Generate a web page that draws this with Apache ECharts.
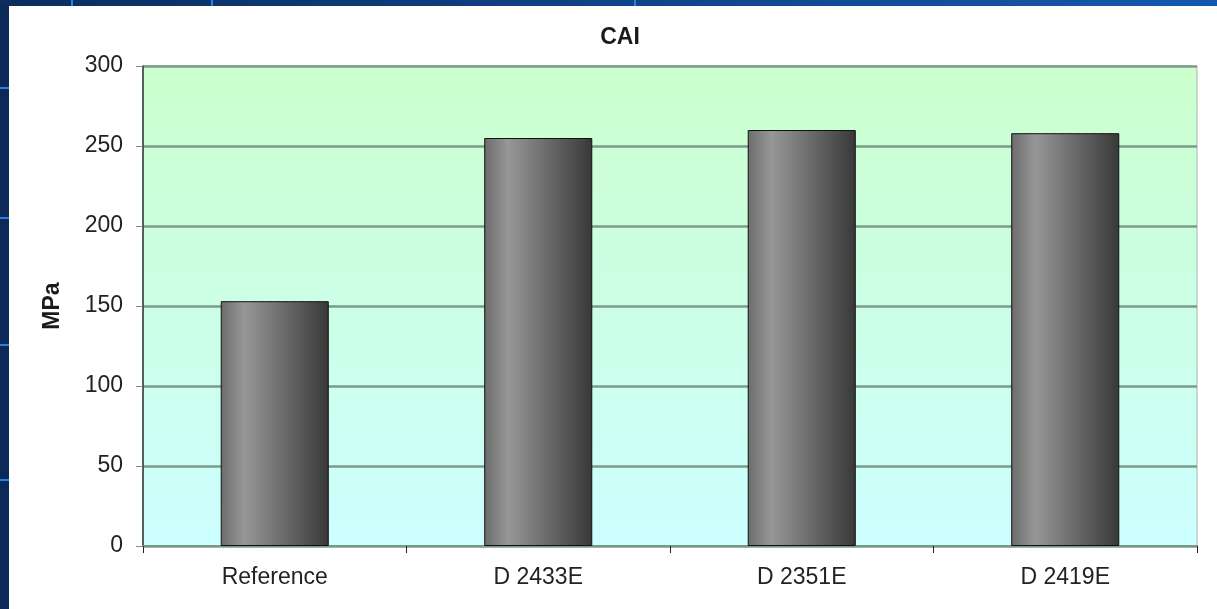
<!DOCTYPE html>
<html>
<head>
<meta charset="utf-8">
<title>CAI</title>
<script src="https://cdn.jsdelivr.net/npm/echarts@6/dist/echarts.min.js"></script>
<style>
  html, body { margin: 0; padding: 0; background: #0b2a57; }
  #chart { width: 1217px; height: 609px; }
</style>
</head>
<body>
<div id="chart"></div>
<script>
// Compression-after-impact strength per laminate
const categories = ['Reference', 'D 2433E', 'D 2351E', 'D 2419E'];
const caiValues = [153, 255, 260, 258];
const yTicks = { min: 0, max: 300, interval: 50 };

const font = '"Liberation Sans", Arial, sans-serif';
const chart = echarts.init(document.getElementById('chart'));

chart.setOption({
  backgroundColor: '#0b2a57',
  animation: false,
  graphic: [
    // slide decoration strips around the white panel
    { type: 'rect', shape: { x: 0, y: 0, width: 1217, height: 6 },
      style: { fill: new echarts.graphic.LinearGradient(0, 0, 1, 0, [
        { offset: 0, color: '#0a2d5e' }, { offset: 1, color: '#1558b0' }]) }, z: -2 },
    { type: 'line', shape: { x1: 72, y1: 0, x2: 72, y2: 6 }, style: { stroke: '#2f7fe0', lineWidth: 2 }, z: -1 },
    { type: 'line', shape: { x1: 212, y1: 0, x2: 212, y2: 6 }, style: { stroke: '#2f7fe0', lineWidth: 2 }, z: -1 },
    { type: 'line', shape: { x1: 635, y1: 0, x2: 635, y2: 6 }, style: { stroke: '#2f7fe0', lineWidth: 2 }, z: -1 },
    { type: 'line', shape: { x1: 0, y1: 88, x2: 9, y2: 88 }, style: { stroke: '#2f7fe0', lineWidth: 2 }, z: -1 },
    { type: 'line', shape: { x1: 0, y1: 218, x2: 9, y2: 218 }, style: { stroke: '#2f7fe0', lineWidth: 2 }, z: -1 },
    { type: 'line', shape: { x1: 0, y1: 345, x2: 9, y2: 345 }, style: { stroke: '#2f7fe0', lineWidth: 2 }, z: -1 },
    { type: 'line', shape: { x1: 0, y1: 480, x2: 9, y2: 480 }, style: { stroke: '#2f7fe0', lineWidth: 2 }, z: -1 },
    { type: 'rect', shape: { x: 9, y: 6, width: 1208, height: 603 },
      style: { fill: '#ffffff' }, z: -1 }
  ],
  title: {
    text: 'CAI',
    left: 615,
    textAlign: 'center',
    top: 21,
    textStyle: { fontFamily: font, fontSize: 23, fontWeight: 'bold', color: '#1a1a1a' }
  },
  grid: {
    left: 143, right: 20, top: 66, bottom: 63,
    show: true,
    borderWidth: 1,
    borderColor: '#a8b4ad',
    backgroundColor: new echarts.graphic.LinearGradient(0, 0, 0, 1, [
      { offset: 0, color: '#ccffcc' },
      { offset: 1, color: '#ccffff' }
    ])
  },
  xAxis: {
    type: 'category',
    data: categories,
    axisLine: { lineStyle: { color: '#7a988a', width: 2 } },
    axisTick: { show: true, length: 7, lineStyle: { color: '#222', width: 1 } },
    axisLabel: { fontFamily: font, fontSize: 23, color: '#222', margin: 20 }
  },
  yAxis: {
    type: 'value',
    min: yTicks.min, max: yTicks.max, interval: yTicks.interval,
    name: 'MPa',
    nameLocation: 'middle',
    nameRotate: 90,
    nameGap: 79,
    nameTextStyle: { fontFamily: font, fontSize: 23, fontWeight: 'bold', color: '#1a1a1a' },
    axisLine: { show: true, lineStyle: { color: '#2b3a30', width: 1.5 } },
    axisTick: { show: true, length: 7, lineStyle: { color: '#888', width: 1 } },
    axisLabel: { fontFamily: font, fontSize: 23, color: '#222', margin: 20 },
    splitLine: { lineStyle: { color: '#7d9b8b', width: 2.5 } }
  },
  series: [{
    type: 'bar',
    data: caiValues,
    barCategoryGap: '59%',
    itemStyle: {
      color: new echarts.graphic.LinearGradient(0, 0, 1, 0, [
        { offset: 0, color: '#6c6c6c' },
        { offset: 0.22, color: '#979797' },
        { offset: 1, color: '#383838' }
      ]),
      borderColor: '#111',
      borderWidth: 1
    }
  }]
});
</script>
</body>
</html>
